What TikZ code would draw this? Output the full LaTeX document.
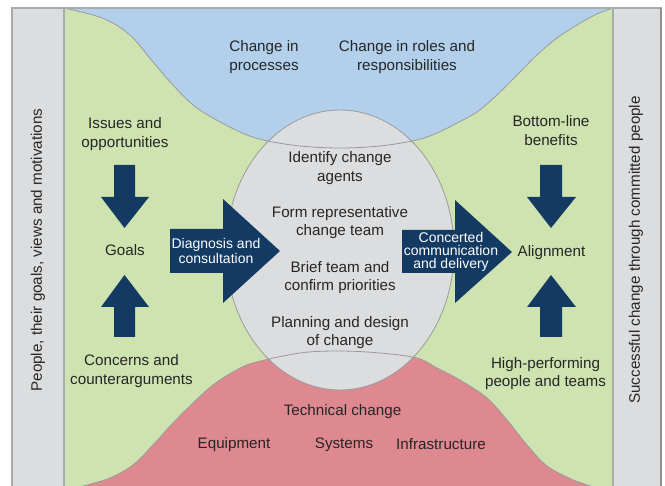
\documentclass[tikz,border=0pt]{standalone}
\usepackage{fontspec}
\setmainfont{Liberation Sans}
\definecolor{fieldgreen}{HTML}{CFE3B0}
\definecolor{skyblue}{HTML}{B2D0EC}
\definecolor{rosered}{HTML}{DE8890}
\definecolor{hubgray}{HTML}{DCDDDF}
\definecolor{bargray}{HTML}{DCDDDF}
\definecolor{framegray}{HTML}{A9AAAC}
\definecolor{edgegray}{HTML}{9A9A9C}
\definecolor{navy}{HTML}{133A63}
\definecolor{txt}{HTML}{262626}
\begin{document}
\begin{tikzpicture}[x=1pt,y=-1pt,
  lbl/.style={align=center, text=txt, inner sep=0pt, yshift=-1.5pt,
    font=\fontsize{15.2}{18.8}\selectfont},
  albl/.style={align=center, text=white, inner sep=0pt,
    font=\fontsize{14}{13}\selectfont},
  sidelbl/.style={text=txt, inner sep=0pt, rotate=90,
    font=\fontsize{15.2}{18.8}\selectfont},
  boundary/.style={draw=edgegray, line width=0.8pt},
  blockarrow/.style={fill=navy, draw=none},
  sidebar/.style={fill=bargray, draw=framegray, line width=1.6pt}]

\useasboundingbox (0,0) rectangle (665,486);
\clip (0,0) rectangle (665,486);

% central field
\fill[fieldgreen] (64,8) rectangle (613,500);

% people / organisational change (top)
\fill[skyblue] plot[smooth, tension=0.55] coordinates {
  (64,8) (93,15) (113,23) (133,38) (153,62) (173,85) (193,105) (213,118)
  (240,132) (263,140) (300,146) (340,148) (380,146) (417,140) (437,133)
  (457,123) (477,112) (497,95) (517,75) (537,55) (557,38) (577,25)
  (597,14) (613,8)} -- cycle;

% technical change (bottom)
\fill[rosered] plot[smooth, tension=0.55] coordinates {
  (60,492) (87,485) (110,478) (133,465) (153,445) (173,423) (193,403)
  (213,385) (233,372) (253,363) (300,353) (340,351) (380,353) (417,358)
  (437,368) (460,380) (487,398) (507,420) (527,445) (547,466) (573,480)
  (587,485) (617,493)} -- (617,500) -- (60,500) -- cycle;

% central process ellipse
\filldraw[fill=hubgray, boundary] (340,250) ellipse [x radius=114pt, y radius=140pt];

% region boundaries, drawn across the ellipse
\draw[boundary] plot[smooth, tension=0.55] coordinates {
  (64,8) (93,15) (113,23) (133,38) (153,62) (173,85) (193,105) (213,118)
  (240,132) (263,140) (300,146) (340,148) (380,146) (417,140) (437,133)
  (457,123) (477,112) (497,95) (517,75) (537,55) (557,38) (577,25)
  (597,14) (613,8)};
\draw[boundary] plot[smooth, tension=0.55] coordinates {
  (60,492) (87,485) (110,478) (133,465) (153,445) (173,423) (193,403)
  (213,385) (233,372) (253,363) (300,353) (340,351) (380,353) (417,358)
  (437,368) (460,380) (487,398) (507,420) (527,445) (547,466) (573,480)
  (587,485) (617,493)};

% side bars and frame
\filldraw[sidebar] (12,8) rectangle (64,500);
\filldraw[sidebar] (613,8) rectangle (661,500);
\draw[framegray, line width=1.6pt] (12,8) -- (661,8);
\draw[framegray!85!black, line width=2pt] (661,8) -- (661,500);

% small block arrows
\fill[blockarrow] (114,165) -- (135,165) -- (135,197) -- (149,197) -- (124.5,228)
  -- (101,197) -- (114,197) -- cycle;
\fill[blockarrow] (114,337) -- (135,337) -- (135,307) -- (149,307) -- (124.5,275)
  -- (101,307) -- (114,307) -- cycle;
\fill[blockarrow] (540,165) -- (562,165) -- (562,197) -- (576,197) -- (551,228)
  -- (527,197) -- (540,197) -- cycle;
\fill[blockarrow] (540,337) -- (562,337) -- (562,307) -- (576,307) -- (551,275)
  -- (527,307) -- (540,307) -- cycle;

% large block arrows
\fill[blockarrow] (170,229) -- (223,229) -- (223,199) -- (280,251) -- (223,303)
  -- (223,273) -- (170,273) -- cycle;
\fill[blockarrow] (402,230) -- (455,230) -- (455,200) -- (512,252) -- (455,303)
  -- (455,273) -- (402,273) -- cycle;

% labels
\node[lbl] (procs) at (264,55.5) {Change in\\processes};
\node[lbl] (roles) at (407,55.5) {Change in roles and\\responsibilities};
\node[lbl] (issues) at (125,132.5) {Issues and\\opportunities};
\node[lbl] (goals) at (125,249) {Goals};
\node[lbl] (concerns) at (131.5,369.5) {Concerns and\\counterarguments};
\node[lbl] (agents) at (340,166.5) {Identify change\\agents};
\node[lbl] (team) at (340,221) {Form representative\\change team};
\node[lbl] (brief) at (340,276) {Brief team and\\confirm priorities};
\node[lbl] (plan) at (340,331) {Planning and design\\of change};
\node[lbl] (tech) at (342.5,410) {Technical change};
\node[lbl] (equip) at (234,443) {Equipment};
\node[lbl] (systems) at (344,443) {Systems};
\node[lbl] (infra) at (441,443) {Infrastructure};
\node[lbl] (benefits) at (551,129) {Bottom-line\\benefits};
\node[lbl] (align) at (551.5,251) {Alignment};
\node[lbl] (perform) at (545.5,372) {High-performing\\people and teams};
\node[albl] (diag) at (216,251) {Diagnosis and\\consultation};
\node[albl] (comm) at (451,251.5) {Concerted\\communication\\and delivery};
\node[sidelbl] (people) at (38,250) {People, their goals, views and motivations};
\node[sidelbl] (success) at (636,250) {Successful change through committed people};
\end{tikzpicture}
\end{document}
